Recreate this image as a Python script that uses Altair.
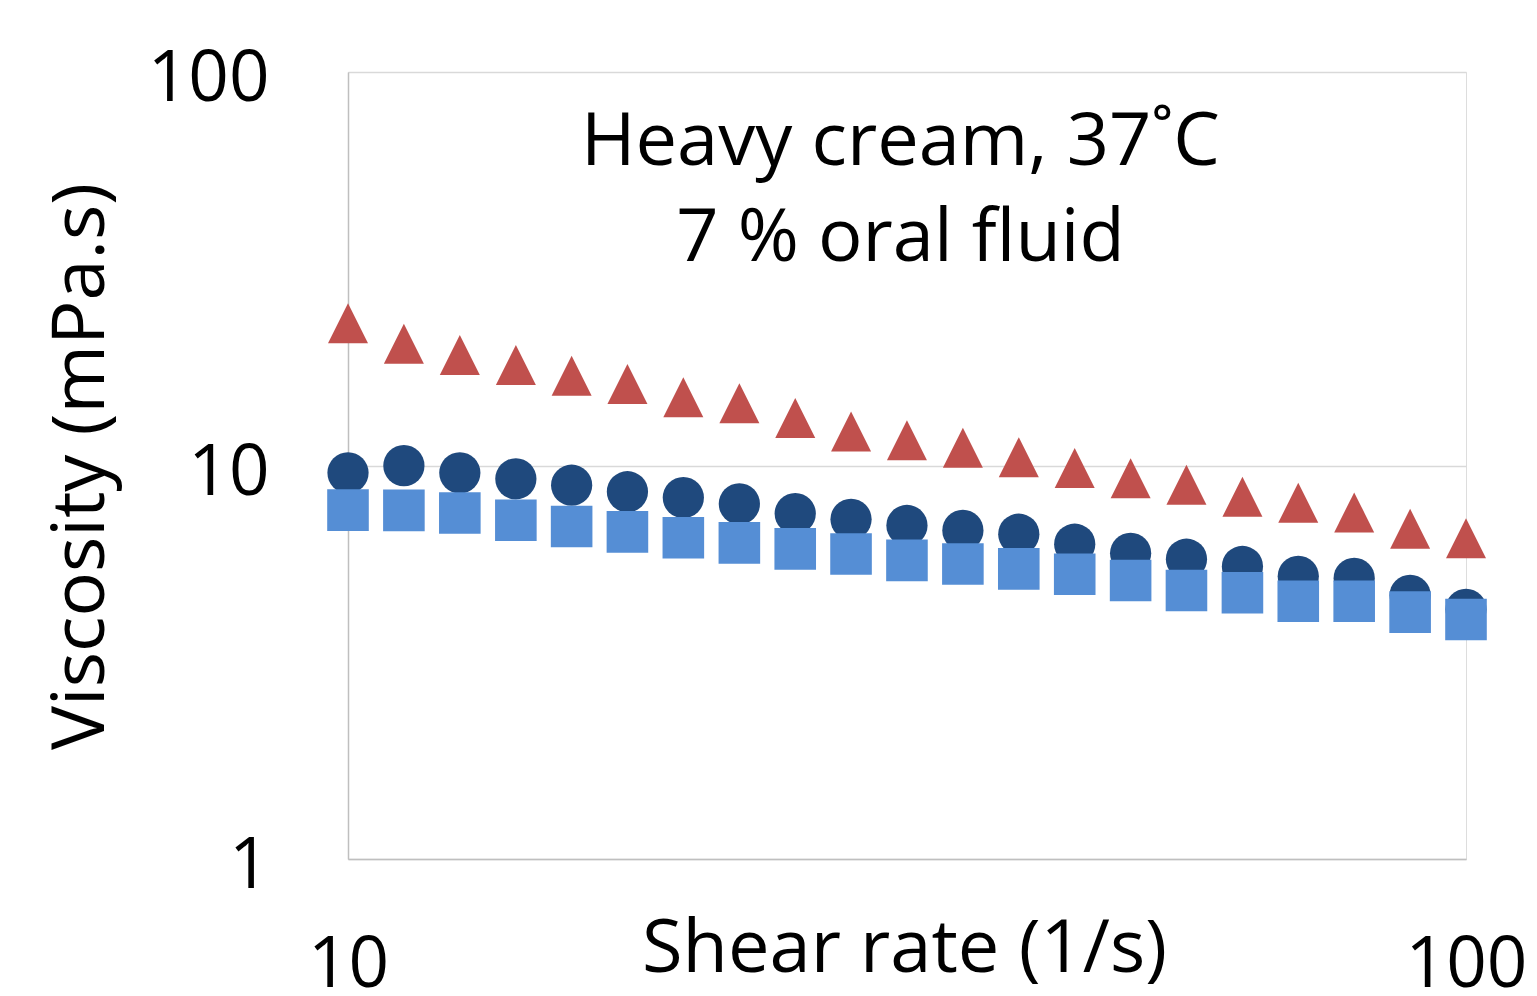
import altair as alt
import pandas as pd

# Shear rate (1/s)
shear_rate = [10, 11.22, 12.59, 14.13, 15.85, 17.78, 19.95, 22.39, 25.12, 28.18, 31.62,
              35.48, 39.81, 44.67, 50.12, 56.23, 63.10, 70.79, 79.43, 89.13, 100]

# Viscosity (mPa.s) per series
visc_triangle = [23.0, 20.4, 19.1, 18.0, 16.9, 16.1, 14.9, 14.4, 13.2, 12.2, 11.6,
                 11.1, 10.5, 9.86, 9.28, 8.93, 8.33, 8.04, 7.60, 6.91, 6.53]
visc_circle = [9.58, 9.99, 9.58, 9.25, 8.91, 8.58, 8.29, 7.99, 7.55, 7.30, 7.04,
               6.84, 6.69, 6.31, 5.98, 5.78, 5.54, 5.23, 5.17, 4.68, 4.31]
visc_square = [7.70, 7.69, 7.57, 7.26, 7.00, 6.78, 6.55, 6.36, 6.14, 5.96, 5.74,
               5.62, 5.46, 5.29, 5.10, 4.81, 4.75, 4.52, 4.52, 4.24, 4.06]

ann_lines = ["Heavy cream, 37˚C", "7 % oral fluid"]
ann_x = [31.2, 31.2]
ann_y = [58.0, 33.0]

FONT = "Open Sans"

df_tri = pd.DataFrame({"rate": shear_rate, "visc": visc_triangle})
df_cir = pd.DataFrame({"rate": shear_rate, "visc": visc_circle})
df_sq = pd.DataFrame({"rate": shear_rate, "visc": visc_square})
df_ann = pd.DataFrame({"rate": ann_x, "visc": ann_y, "text": ann_lines})

xscale = alt.Scale(type="log", domain=[10, 100], nice=False, zero=False)
yscale = alt.Scale(type="log", domain=[1, 100], nice=False, zero=False)

xaxis = alt.Axis(
    title="Shear rate (1/s)", values=[10, 100], format="d",
    grid=False, ticks=False, tickSize=0,
    domainColor="#BFBFBF", domainWidth=1.5,
    labelFont=FONT, labelFontSize=71, labelColor="black",
    labelBaseline="alphabetic", labelPadding=127,
    labelFlush=False, labelOverlap=False,
    titleFont=FONT, titleFontSize=74, titleFontWeight="normal", titleColor="black",
    titleBaseline="alphabetic", titleAlign="center", titleX=556, titleY=112,
)
yaxis = alt.Axis(
    title="Viscosity (mPa.s)", values=[1, 10, 100], format="d",
    grid=True, gridColor="#D9D9D9", gridWidth=1.5,
    ticks=False, tickSize=0,
    domainColor="#BFBFBF", domainWidth=1.5,
    labelFont=FONT, labelFontSize=71, labelColor="black",
    labelBaseline="alphabetic", labelOffset=28.5, labelPadding=79,
    labelFlush=False, labelOverlap=False,
    titleFont=FONT, titleFontSize=74, titleFontWeight="normal", titleColor="black",
    titleBaseline="alphabetic", titleAlign="center", titleAngle=270,
    titleX=-245, titleY=394,
)

tri = alt.Chart(df_tri).mark_point(
    shape="M0,-1L1,1L-1,1Z", filled=True, opacity=1, size=1600,
    color="#C0504D", strokeWidth=0,
).encode(
    x=alt.X("rate:Q", scale=xscale, axis=xaxis),
    y=alt.Y("visc:Q", scale=yscale, axis=yaxis),
)
cir = alt.Chart(df_cir).mark_point(
    shape="circle", filled=True, opacity=1, size=1700,
    color="#1F497D", strokeWidth=0,
).encode(x=alt.X("rate:Q", scale=xscale), y=alt.Y("visc:Q", scale=yscale))
sq = alt.Chart(df_sq).mark_point(
    shape="square", filled=True, opacity=1, size=1730,
    color="#558ED5", strokeWidth=0,
).encode(x=alt.X("rate:Q", scale=xscale), y=alt.Y("visc:Q", scale=yscale))

ann = alt.Chart(df_ann).mark_text(
    font=FONT, fontSize=74, color="black", align="center", baseline="alphabetic",
).encode(
    x=alt.X("rate:Q", scale=xscale), y=alt.Y("visc:Q", scale=yscale), text="text:N"
)

chart = alt.layer(tri, cir, sq, ann).properties(
    width=1118, height=787,
    autosize=alt.AutoSizeParams(type="none"),
    padding={"left": 340, "top": 64, "right": 63, "bottom": 129},
).configure_view(
    stroke="#D9D9D9", strokeWidth=1.5,
).configure(background="white")

chart.save("out.html", embed_options={"renderer": "svg", "actions": False})
